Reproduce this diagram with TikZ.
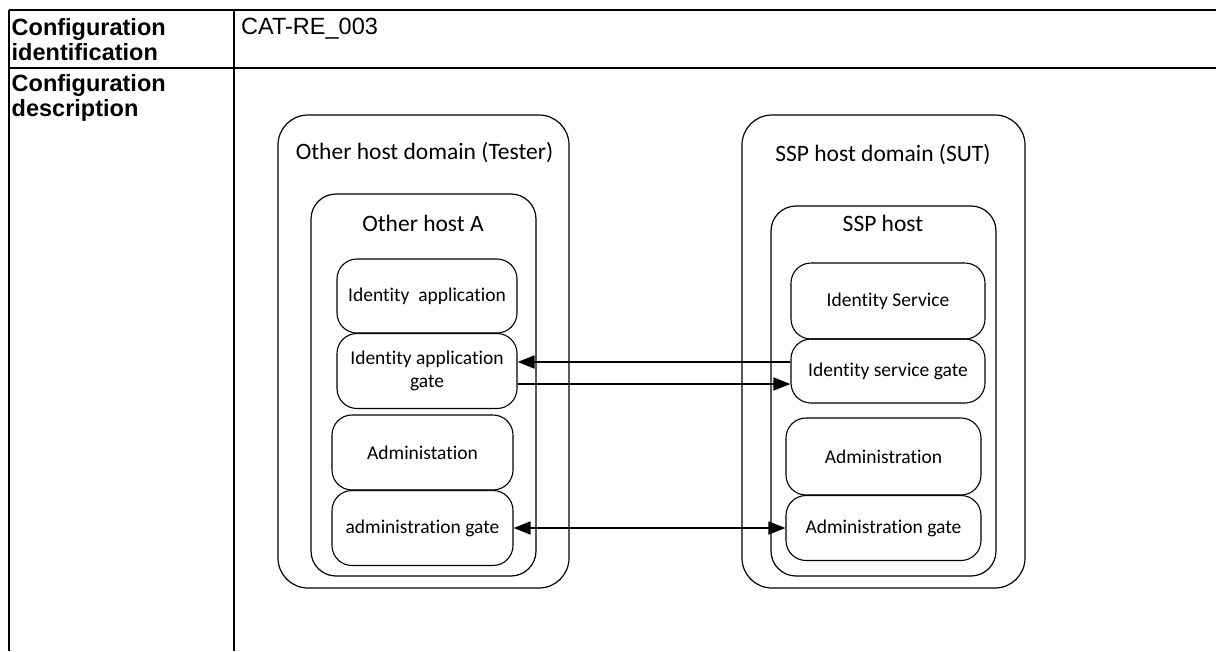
\documentclass[tikz,border=0pt]{standalone}
\usepackage{fontspec}
\setmainfont{Liberation Sans}
\newfontfamily\diagfont[Ligatures=NoCommon]{Carlito}
\usetikzlibrary{positioning}
\usetikzlibrary{arrows.meta}
\tikzset{
  domainbox/.style={draw, line width=1.2pt, rounded corners=30pt, inner sep=0pt},
  hostbox/.style={draw, line width=1.2pt, rounded corners=25pt, inner sep=0pt},
  comp/.style={draw, line width=1.1pt, rounded corners=20pt, align=center, inner sep=0pt, font={\diagfont\fontsize{19.5}{23}\selectfont}},
  boxtitle/.style={font={\diagfont\fontsize{23.5}{27}\selectfont}},
  flow/.style={line width=1.8pt},
  cell/.style={anchor=north west, inner sep=0pt, align=left, font={\fontsize{23.5}{25}\selectfont}},
  >={Triangle[length=17pt,width=13pt]},
}

\begin{document}
\begin{tikzpicture}[x=1pt,y=-1pt]
\useasboundingbox (0,0) rectangle (1216,651);
% table
\foreach \y in {10,68} {
\draw[line width=2pt] (9,\y) -- (1216,\y);
}
\foreach \x in {9,234} {
\draw[line width=2pt] (\x,10) -- (\x,651);
}
\node[cell] (cfgid) at (11.5,18) {\bfseries Configuration\\\bfseries identification};
\node[cell] (cfgval) at (241,18) {CAT-RE\_003};
\node[cell] (cfgdesc) at (11.5,74) {\bfseries Configuration\\\bfseries description};
% tester side
\node[domainbox, minimum width=291pt, minimum height=473pt] (tester) at (423.5,351.5) {};
\node[boxtitle] (testerlbl) at (424.5,153) {Other host domain (Tester)};
\node[hostbox, minimum width=225pt, minimum height=382pt] (hosta) at (423.5,385) {};
\node[boxtitle] (hostalbl) at (423,223) {Other host A};
\node[comp, minimum width=180pt, minimum height=74pt] (idapp) at (427,296) {Identity\ \ application};
\node[comp, minimum width=180pt, minimum height=75pt] (idappgate) at (427,371) {Identity application\\gate};
\node[comp, minimum width=181pt, minimum height=75pt] (admin) at (422.5,452.5) {Administation};
\node[comp, minimum width=181pt, minimum height=75pt] (admingate) at (422.5,528) {administration gate};
% SUT side
\node[domainbox, minimum width=283pt, minimum height=473pt] (sut) at (883.5,351.5) {};
\node[boxtitle] (sutlbl) at (883,155) {SSP host domain (SUT)};
\node[hostbox, minimum width=225pt, minimum height=370pt] (ssphost) at (883.5,391) {};
\node[boxtitle] (ssphostlbl) at (883,223) {SSP host};
\node[comp, minimum width=194pt, minimum height=76pt] (idsvc) at (888,301) {Identity Service};
\node[comp, minimum width=194pt, minimum height=64pt] (idsvcgate) at (888,371) {Identity service gate};
\node[comp, minimum width=195pt, minimum height=77pt] (adm) at (883.5,456.5) {Administration};
\node[comp, minimum width=195pt, minimum height=65pt] (admgate) at (883.5,528) {Administration gate};
% connections
\draw[flow,->] ([yshift=9pt]idsvcgate.west) -- ([yshift=9pt]idappgate.east);
\draw[flow,->] ([yshift=-13pt]idappgate.east) -- ([yshift=-13pt]idsvcgate.west);
\draw[flow,<->] (admingate.east) -- (admgate.west);
\end{tikzpicture}
\end{document}
